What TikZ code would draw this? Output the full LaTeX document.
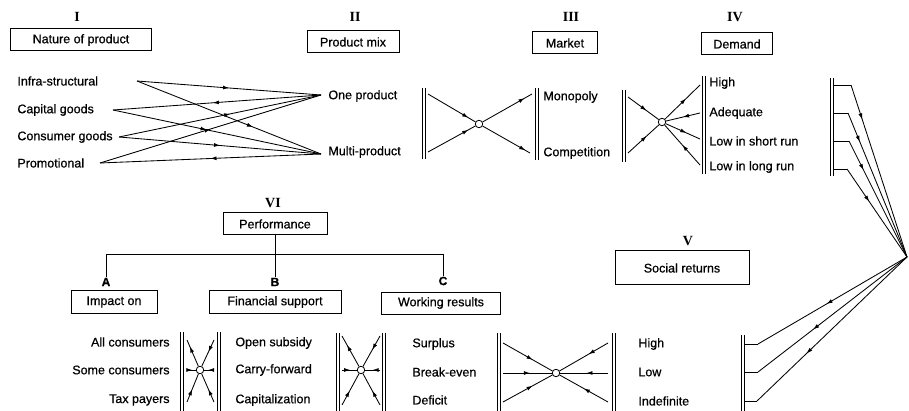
\documentclass[tikz,border=0pt]{standalone}
\usepackage{fontspec}
\setmainfont{Liberation Sans}[FakeBold=0.6]
\newfontfamily\romfont{Liberation Serif}
\usetikzlibrary{arrows.meta,decorations.markings}
\begin{document}
\begin{tikzpicture}[x=1pt,y=-1pt, line width=0.85pt,
 every node/.style={font=\fontsize{12.5}{14}\selectfont, inner sep=0pt},
 bx/.style={draw, line width=1pt, minimum height=22pt},
 num/.style={font=\romfont\bfseries\fontsize{14}{15}\selectfont},
 lett/.style={font=\bfseries\fontsize{12}{13}\selectfont},
 circ/.style={circle, draw, minimum size=7.5pt, inner sep=0pt, line width=0.8pt},
 marr/.style={postaction={decorate}, decoration={markings, mark=at position #1 with {\arrow{Latex[length=6pt,width=4pt]}}}},
 rarr/.style={postaction={decorate}, decoration={markings, mark=at position #1 with {\arrowreversed{Latex[length=6pt,width=4pt]}}}},
]
\useasboundingbox (0,0) rectangle (909,411);

% ---------- headers ----------
\node[num] (nI) at (77,17) {I};
\node[bx, minimum width=141pt] (bI) at (81,40) {Nature of product};
\node[num] (nII) at (355,17) {II};
\node[bx, minimum width=92pt] (bII) at (353,42) {Product mix};
\node[num] (nIII) at (571,17) {III};
\node[bx, minimum width=65pt] (bIII) at (565,43) {Market};
\node[num] (nIV) at (735,17) {IV};
\node[bx, minimum width=71pt] (bIV) at (737,44) {Demand};

% ---------- I -> II ----------
\node[anchor=west] (infra) at (17,81) {Infra-structural};
\node[anchor=west] (capital) at (17,110) {Capital goods};
\node[anchor=west] (consumer) at (17,137) {Consumer goods};
\node[anchor=west] (promo) at (17,163) {Promotional};
\coordinate (ci) at (137,81);
\coordinate (cc) at (113,110);
\coordinate (ccg) at (119,137);
\coordinate (cp) at (100,163);
\node[anchor=west] (one) at (328,96) {One product};
\node[anchor=west] (multi) at (328,152) {Multi-product};
\coordinate (co) at (321,95);
\coordinate (cm) at (321,154);
\draw[marr=0.5] (ci) -- (co);
\draw[marr=0.63] (ci) -- (cm);
\draw[rarr=0.48] (cc) -- (co);
\draw[marr=0.45] (cc) -- (cm);
\draw[marr=0.55] (ccg) -- (co);
\draw[marr=0.5] (ccg) -- (cm);
\draw[marr=0.5] (cp) -- (co);
\draw[rarr=0.5] (cp) -- (cm);

% ---------- II -> III ----------
\draw (422,88) -- (422,159) (425.5,88) -- (425.5,159);
\node[circ] (c1) at (479,124) {};
\coordinate (a1) at (428,94);
\coordinate (a2) at (428,152);
\coordinate (a3) at (532,94);
\coordinate (a4) at (530,153);
\draw[marr=0.85] (a1) -- (c1);
\draw[marr=0.85] (a2) -- (c1);
\draw[marr=0.85] (c1) -- (a3);
\draw[marr=0.9] (c1) -- (a4);
\draw (535,88) -- (535,160) (538.5,88) -- (538.5,160);
\node[anchor=west] (mono) at (543,97) {Monopoly};
\node[anchor=west] (comp) at (543,153) {Competition};

% ---------- III -> IV ----------
\draw (622,90) -- (622,162) (625.5,90) -- (625.5,162);
\node[circ] (c2) at (662,122) {};
\coordinate (b1) at (628,97);
\coordinate (b2) at (628,153);
\coordinate (b3) at (700,85);
\coordinate (b4) at (700,113);
\coordinate (b5) at (700,139);
\coordinate (b6) at (700,165);
\draw[marr=0.6] (b1) -- (c2);
\draw[marr=0.6] (b2) -- (c2);
\draw[marr=0.6] (c2) -- (b3);
\draw[marr=0.5] (b4) -- (c2);
\draw[marr=0.6] (c2) -- (b5);
\draw[marr=0.5] (b6) -- (c2);
\draw (702,76) -- (702,174) (705.5,76) -- (705.5,174);
\node[anchor=west] (dhigh) at (709,83) {High};
\node[anchor=west] (dadeq) at (709,113) {Adequate};
\node[anchor=west] (dshort) at (709,141) {Low in short run};
\node[anchor=west] (dlong) at (709,167) {Low in long run};

% ---------- IV -> V ----------
\draw (830,78) -- (830,176) (833.5,78) -- (833.5,176);
\coordinate (conv) at (907,257);
\coordinate (t1) at (833.5,85);  \coordinate (k1) at (851,85);
\coordinate (t2) at (833.5,113); \coordinate (k2) at (848,113);
\coordinate (t3) at (833.5,141); \coordinate (k3) at (849,141);
\coordinate (t4) at (833.5,169); \coordinate (k4) at (847,169);
\draw (t1) -- (k1); \draw[marr=0.2] (k1) -- (conv);
\draw (t2) -- (k2); \draw[marr=0.2] (k2) -- (conv);
\draw (t3) -- (k3); \draw[marr=0.25] (k3) -- (conv);
\draw (t4) -- (k4); \draw[marr=0.37] (k4) -- (conv);

\coordinate (s1) at (744.5,344); \coordinate (m1) at (758,344);
\coordinate (s2) at (744.5,372); \coordinate (m2) at (758,372);
\coordinate (s3) at (744.5,401); \coordinate (m3) at (757,401);
\draw[marr=0.54] (conv) -- (m1); \draw (m1) -- (s1);
\draw[marr=0.63] (conv) -- (m2); \draw (m2) -- (s2);
\draw[marr=0.67] (conv) -- (m3); \draw (m3) -- (s3);
\draw (741,335) -- (741,411) (744.5,335) -- (744.5,411);

\node[num] (nV) at (688,241) {V};
\node[bx, minimum width=134pt, minimum height=34pt] (bV) at (682,268) {Social returns};
\node[anchor=west] (shigh) at (638,344) {High};
\node[anchor=west] (slow) at (638,372) {Low};
\node[anchor=west] (sind) at (638,401) {Indefinite};
\draw (612,333) -- (612,411) (615.5,333) -- (615.5,411);

% ---------- VI tree ----------
\node[num] (nVI) at (273,203) {VI};
\node[bx, minimum width=104pt] (perf) at (275,224) {Performance};
\node[lett] (A) at (106,282) {A};
\node[lett] (B) at (275,282) {B};
\node[lett] (C) at (443,281) {C};
\draw (perf.south) -- (B.north);
\draw (A.north) -- (A.north |- 0,254) -- (C.north |- 0,254) -- (C.north);
\node[bx, minimum width=86pt, minimum height=23pt] (bA) at (114,302) {Impact on};
\node[bx, minimum width=132pt, minimum height=23pt] (bB) at (275,302) {Financial support};
\node[bx, minimum width=119pt, minimum height=22pt] (bC) at (441,303) {Working results};

% ---------- A <-> B ----------
\node[anchor=east] (allc) at (170,342) {All consumers};
\node[anchor=east] (somec) at (170,370) {Some consumers};
\node[anchor=east] (taxp) at (170,400) {Tax payers};
\draw (180,332) -- (180,411) (183.5,332) -- (183.5,411);
\draw (217,332) -- (217,411) (220.5,332) -- (220.5,411);
\node[circ] (c3) at (200,370) {};
\coordinate (f1) at (187,340);
\coordinate (f2) at (187,370);
\coordinate (f3) at (187,402);
\coordinate (f4) at (214,340);
\coordinate (f5) at (214,370);
\coordinate (f6) at (214,402);
\draw[marr=0.75] (c3) -- (f1);
\draw[marr=0.45] (f4) -- (c3);
\draw[marr=0.6] (f2) -- (c3);
\draw[marr=0.6] (f5) -- (c3);
\draw[marr=0.45] (f3) -- (c3);
\draw[marr=0.45] (f6) -- (c3);
\node[anchor=west] (opens) at (235,343) {Open subsidy};
\node[anchor=west] (carry) at (235,370) {Carry-forward};
\node[anchor=west] (capz) at (235,400) {Capitalization};

% ---------- B <-> C ----------
\draw (336,333) -- (336,411) (339.5,333) -- (339.5,411);
\draw (382,333) -- (382,411) (385.5,333) -- (385.5,411);
\node[circ] (c4) at (361,370) {};
\coordinate (d1) at (342,336);
\coordinate (d2) at (342,370);
\coordinate (d3) at (342,405);
\coordinate (d4) at (380,336);
\coordinate (d5) at (380,370);
\coordinate (d6) at (380,405);
\draw[marr=0.7] (c4) -- (d1);
\draw[marr=0.45] (d4) -- (c4);
\draw[marr=0.55] (d2) -- (c4);
\draw[marr=0.5] (d5) -- (c4);
\draw[marr=0.45] (d3) -- (c4);
\draw[marr=0.45] (d6) -- (c4);
\node[anchor=west] (surp) at (412,344) {Surplus};
\node[anchor=west] (break) at (412,372) {Break-even};
\node[anchor=west] (defi) at (412,400) {Deficit};

% ---------- C <-> V ----------
\draw (497,333) -- (497,411) (500.5,333) -- (500.5,411);
\node[circ] (c5) at (556,373) {};
\coordinate (e1) at (503,343);
\coordinate (e2) at (503,373);
\coordinate (e3) at (503,402);
\coordinate (e4) at (608,343);
\coordinate (e5) at (608,373);
\coordinate (e6) at (608,402);
\draw[marr=0.6] (e1) -- (c5);
\draw[marr=0.55] (e2) -- (c5);
\draw[marr=0.6] (e3) -- (c5);
\draw[marr=0.4] (e4) -- (c5);
\draw[marr=0.45] (e5) -- (c5);
\draw[marr=0.5] (e6) -- (c5);
\end{tikzpicture}
\end{document}
